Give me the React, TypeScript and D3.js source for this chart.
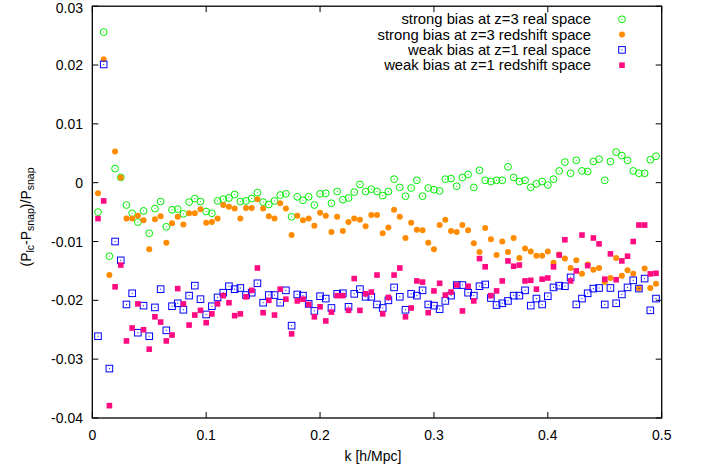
import React from "react";
import * as d3 from "d3";

const kValues = [
  0.005, 0.01, 0.015, 0.02, 0.025, 0.03, 0.035, 0.04, 0.045, 0.05,
  0.055, 0.06, 0.065, 0.07, 0.075, 0.08, 0.085, 0.09, 0.095, 0.1,
  0.105, 0.11, 0.115, 0.12, 0.125, 0.13, 0.135, 0.14, 0.145, 0.15,
  0.155, 0.16, 0.165, 0.17, 0.175, 0.18, 0.185, 0.19, 0.195, 0.2,
  0.205, 0.21, 0.215, 0.22, 0.225, 0.23, 0.235, 0.24, 0.245, 0.25,
  0.255, 0.26, 0.265, 0.27, 0.275, 0.28, 0.285, 0.29, 0.295, 0.3,
  0.305, 0.31, 0.315, 0.32, 0.325, 0.33, 0.335, 0.34, 0.345, 0.35,
  0.355, 0.36, 0.365, 0.37, 0.375, 0.38, 0.385, 0.39, 0.395, 0.4,
  0.405, 0.41, 0.415, 0.42, 0.425, 0.43, 0.435, 0.44, 0.445, 0.45,
  0.455, 0.46, 0.465, 0.47, 0.475, 0.48, 0.485, 0.49, 0.495,
];

const strongReal = [
  -0.005, 0.0256, -0.0125, 0.0024, 0.0009, -0.0038, -0.0052, -0.0067, -0.0048, -0.0086,
  -0.0044, -0.0032, -0.0075, -0.0046, -0.0045, -0.0053, -0.0033, -0.0027, -0.0032, -0.0049,
  -0.0052, -0.0031, -0.0028, -0.0026, -0.002, -0.0032, -0.0031, -0.0027, -0.0017, -0.0033,
  -0.0037, -0.0031, -0.0021, -0.0019, -0.0058, -0.0024, -0.003, -0.0024, -0.0038, -0.0019,
  -0.0018, -0.0035, -0.0015, -0.0029, -0.0026, -0.0016, -0.0003, -0.0015, -0.0011, -0.0015,
  -0.0022, -0.0015, 0.0006, -0.0008, -0.0023, -0.0009, 0.0004, -0.0023, -0.0009, -0.0012,
  -0.0014, 0.0006, 0.0007, -0.0006, 0.0009, 0.0014, -0.0008, 0.0021, 0.0004, 0.0002,
  0.0004, 0.0004, 0.0027, 0.0009, 0.0002, 0.0004, -0.0008, -0.0002, 0.0002, -0.0004,
  0.0006, 0.002, 0.0035, 0.0016, 0.0038, 0.002, 0.0019, 0.0036, 0.004, 0.0004,
  0.0036, 0.0052, 0.0046, 0.0038, 0.002, 0.0016, 0.0016, 0.0039, 0.0045,
];

const strongRedshift = [
  -0.0018, 0.021, -0.0157, 0.0053, 0.0009, -0.0061, -0.0061, -0.0056, -0.0064, -0.0113,
  -0.0062, -0.0057, -0.0102, -0.0069, -0.0058, -0.0071, -0.0052, -0.0052, -0.0045, -0.0068,
  -0.0067, -0.0061, -0.0038, -0.0041, -0.0044, -0.0061, -0.0043, -0.0043, -0.0028, -0.0044,
  -0.0057, -0.0061, -0.0035, -0.0044, -0.0089, -0.0056, -0.0064, -0.0061, -0.0073, -0.0051,
  -0.0056, -0.0084, -0.0058, -0.0082, -0.0067, -0.0061, -0.0063, -0.0074, -0.0055, -0.0055,
  -0.0086, -0.0076, -0.0046, -0.0058, -0.0094, -0.0068, -0.008, -0.0081, -0.0102, -0.0113,
  -0.0072, -0.0063, -0.0082, -0.0084, -0.0072, -0.0081, -0.0103, -0.0118, -0.0077, -0.0096,
  -0.0123, -0.01, -0.0118, -0.0094, -0.0128, -0.0112, -0.0117, -0.0124, -0.0124, -0.0117,
  -0.0136, -0.0122, -0.0129, -0.0145, -0.0132, -0.0155, -0.0139, -0.0148, -0.0145, -0.0169,
  -0.0162, -0.0128, -0.0158, -0.0149, -0.0155, -0.018, -0.0146, -0.0179, -0.0172,
];

const weakReal = [
  -0.0261, 0.0201, -0.0316, -0.01, -0.0132, -0.0207, -0.0188, -0.0255, -0.0209, -0.0261,
  -0.0212, -0.0181, -0.0251, -0.021, -0.0205, -0.0216, -0.0192, -0.0175, -0.0198, -0.0224,
  -0.021, -0.0195, -0.0187, -0.0176, -0.0181, -0.0179, -0.0191, -0.0187, -0.0171, -0.0204,
  -0.0191, -0.0191, -0.0204, -0.0183, -0.0243, -0.019, -0.0192, -0.0206, -0.0218, -0.0193,
  -0.0197, -0.0213, -0.0189, -0.0188, -0.0211, -0.0189, -0.0181, -0.0194, -0.0194, -0.0207,
  -0.0213, -0.02, -0.0178, -0.0194, -0.0216, -0.0189, -0.0192, -0.0183, -0.0207, -0.0209,
  -0.0215, -0.0201, -0.0192, -0.0174, -0.0174, -0.0187, -0.0192, -0.0176, -0.0173, -0.0196,
  -0.0208, -0.0205, -0.0201, -0.0192, -0.0192, -0.0183, -0.0209, -0.0197, -0.0207, -0.0193,
  -0.0178, -0.0175, -0.0176, -0.0161, -0.0207, -0.0197, -0.0188, -0.018, -0.0179, -0.0207,
  -0.0179, -0.0205, -0.019, -0.0178, -0.0166, -0.018, -0.0163, -0.0217, -0.0197,
];

const weakRedshift = [
  -0.0061, -0.0031, -0.0379, -0.0177, -0.014, -0.0269, -0.0247, -0.0206, -0.025, -0.0283,
  -0.0228, -0.0237, -0.0269, -0.0259, -0.018, -0.0206, -0.0242, -0.0225, -0.0217, -0.0238,
  -0.0223, -0.0206, -0.0192, -0.0204, -0.0226, -0.0223, -0.0194, -0.0183, -0.0145, -0.0221,
  -0.02, -0.0225, -0.0181, -0.0198, -0.0257, -0.0201, -0.0198, -0.0207, -0.0228, -0.0211,
  -0.0235, -0.022, -0.0192, -0.0192, -0.0217, -0.0163, -0.0217, -0.0189, -0.0186, -0.0157,
  -0.0223, -0.0195, -0.0157, -0.0145, -0.0228, -0.0213, -0.0167, -0.0169, -0.0221, -0.0184,
  -0.0171, -0.0191, -0.0186, -0.0174, -0.0218, -0.0176, -0.0201, -0.0129, -0.0143, -0.0192,
  -0.0184, -0.0167, -0.0133, -0.0142, -0.014, -0.0167, -0.0166, -0.0181, -0.0164, -0.0162,
  -0.0143, -0.0123, -0.0097, -0.0167, -0.015, -0.0089, -0.0141, -0.0094, -0.0104, -0.0164,
  -0.0121, -0.0165, -0.0133, -0.0125, -0.01, -0.0072, -0.0072, -0.0155, -0.0154,
];

const seriesNames = [
  "strong bias at z=3 real space",
  "strong bias at z=3 redshift space",
  "weak bias at z=1 real space",
  "weak bias at z=1 redshift space",
];
const seriesColors = ["#00ee00", "#ff8c00", "#0000ff", "#ff0a80"];
const seriesShapes = ["openCircle", "filledCircle", "openSquare", "filledSquare"];
const seriesValues = [strongReal, strongRedshift, weakReal, weakRedshift];

const xTicks = [0, 0.1, 0.2, 0.3, 0.4, 0.5];
const xTickLabels = ["0", "0.1", "0.2", "0.3", "0.4", "0.5"];
const yTicks = [0.03, 0.02, 0.01, 0, -0.01, -0.02, -0.03, -0.04];
const yTickLabels = ["0.03", "0.02", "0.01", "0", "-0.01", "-0.02", "-0.03", "-0.04"];

const W = 704;
const H = 468;
const M = { left: 92.3, right: 661.7, top: 6.2, bottom: 418 };
const FONT = "'Liberation Sans', Arial, Helvetica, sans-serif";
const FS = 14;
const LFS = 14.8;

function Marker({ shape, color, cx, cy }: { shape: string; color: string; cx: number; cy: number }) {
  if (shape === "openCircle") {
    return (
      <g>
        <circle cx={cx} cy={cy} r={3.4} fill="none" stroke={color} strokeWidth={1} />
        <rect x={cx - 0.5} y={cy - 0.5} width={1} height={1} fill={color} />
      </g>
    );
  }
  if (shape === "filledCircle") {
    return <circle cx={cx} cy={cy} r={3} fill={color} />;
  }
  if (shape === "openSquare") {
    return (
      <g>
        <rect x={cx - 3.3} y={cy - 3.3} width={6.6} height={6.6} fill="none" stroke={color} strokeWidth={1} />
        <rect x={cx - 0.5} y={cy - 0.5} width={1} height={1} fill={color} />
      </g>
    );
  }
  return <rect x={cx - 2.8} y={cy - 2.8} width={5.6} height={5.6} fill={color} />;
}

export default function App() {
  const x = d3.scaleLinear().domain([0, 0.5]).range([M.left, M.right]);
  const y = d3.scaleLinear().domain([-0.04, 0.03]).range([M.bottom, M.top]);
  const tl = 6;

  return (
    <svg
      width={W}
      height={H}
      style={{ position: "absolute", left: 0, top: 0, background: "#fff" }}
      fontFamily={FONT}
    >
      <rect x={0} y={0} width={W} height={H} fill="#fff" />
      {xTicks.map((t, i) => (
        <g key={"xt" + i}>
          <line x1={x(t)} x2={x(t)} y1={M.bottom} y2={M.bottom - tl} stroke="#000" strokeWidth={1} />
          <line x1={x(t)} x2={x(t)} y1={M.top} y2={M.top + tl} stroke="#000" strokeWidth={1} />
          <text x={x(t)} y={440} textAnchor="middle" fontSize={FS} fill="#000">
            {xTickLabels[i]}
          </text>
        </g>
      ))}
      {yTicks.map((t, i) => (
        <g key={"yt" + i}>
          <line x1={M.left} x2={M.left + tl} y1={y(t)} y2={y(t)} stroke="#000" strokeWidth={1} />
          <line x1={M.right} x2={M.right - tl} y1={y(t)} y2={y(t)} stroke="#000" strokeWidth={1} />
          <text x={83} y={Math.max(y(t) + 5, 12.5)} textAnchor="end" fontSize={FS} fill="#000">
            {yTickLabels[i]}
          </text>
        </g>
      ))}
      {seriesValues.map((vals, s) => (
        <g key={"s" + s}>
          {vals.map((v, i) => (
            <Marker key={i} shape={seriesShapes[s]} color={seriesColors[s]} cx={x(kValues[i])} cy={y(v)} />
          ))}
        </g>
      ))}
      <rect
        x={M.left}
        y={M.top}
        width={M.right - M.left}
        height={M.bottom - M.top}
        fill="none"
        stroke="#000"
        strokeWidth={1.3}
      />
      {seriesNames.map((name, i) => {
        const cy = 19.3 + i * 15.3;
        return (
          <g key={"lg" + i}>
            <text x={591} y={cy + 5} textAnchor="end" fontSize={LFS} fill="#000">
              {name}
            </text>
            <Marker shape={seriesShapes[i]} color={seriesColors[i]} cx={622} cy={cy} />
          </g>
        );
      })}
      <text x={373} y={461} textAnchor="middle" fontSize={FS} fill="#000">
        k [h/Mpc]
      </text>
      <text transform="translate(31,217) rotate(-90)" textAnchor="middle" fontSize={FS} fill="#000">
        (P<tspan fontSize={10.5} dy={3}>lc</tspan>
        <tspan dy={-3}>-P</tspan>
        <tspan fontSize={10.5} dy={3}>snap</tspan>
        <tspan dy={-3}>)/P</tspan>
        <tspan fontSize={10.5} dy={3}>snap</tspan>
      </text>
    </svg>
  );
}
